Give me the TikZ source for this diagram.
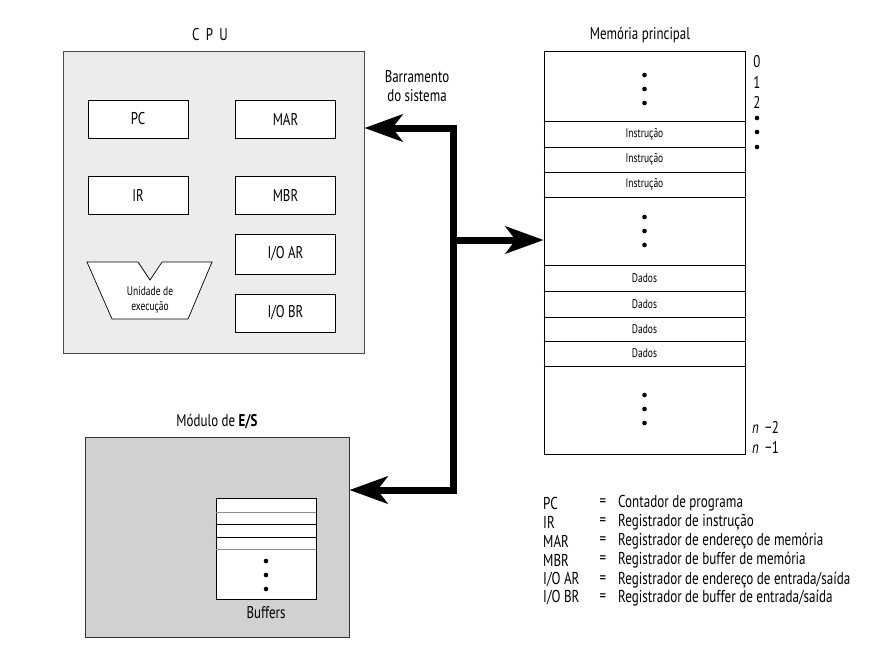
\documentclass[tikz,border=0pt]{standalone}
\usepackage{fontspec}
\setmainfont{PT Sans}[FakeStretch=0.76]
\usepackage{tikz}
\usetikzlibrary{positioning,arrows.meta}

\definecolor{cpugray}{gray}{0.925}
\definecolor{iogray}{gray}{0.82}

\begin{document}
\begin{tikzpicture}[
    x=1pt, y=-1pt,
    every node/.style={font=\fontsize{17}{19}\selectfont, align=center, inner sep=0pt},
    reg/.style={rectangle, draw=black, line width=0.7pt, fill=white, minimum width=100pt, minimum height=38pt},
    cell/.style={font=\fontsize{12.5}{14}\selectfont},
    bus/.style={-{Stealth[length=38pt, width=27pt, inset=10pt]}, line width=7pt, line join=miter},
    dot/.style={circle, fill=black, minimum size=4.6pt},
    legend/.style={anchor=west, font=\fontsize{17.2}{19}\selectfont}
]
\useasboundingbox (0,0) rectangle (883,657);

% CPU
\node[rectangle, draw=black!70, line width=0.8pt, fill=cpugray, minimum width=301pt, minimum height=302pt] (cpu) at (213.5,202) {};
\node (cputitle) at (210,35) {C\, P\, U};
\node[reg] (pc)  at (138,119)   {PC};
\node[reg] (mar) at (285.5,119) {MAR};
\node[reg] (ir)  at (138,195.5) {IR};
\node[reg] (mbr) at (285.5,195.5) {MBR};
\node[reg, minimum height=40pt] (ioar) at (285.5,254) {I/O AR};
\node[reg] (iobr) at (285.5,313) {I/O BR};
\draw[fill=white, line width=0.7pt] (87,262) -- (138,262) -- (150,280) -- (162,262) -- (212,262)
    -- (188,319) -- (112,319) -- cycle;
\node[font=\fontsize{12.5}{15}\selectfont] (exec) at (150,300) {Unidade de\\execução};

% memoria principal
\node (memtitle) at (640,35) {Memória principal};
\node[rectangle, draw=black, line width=0.7pt, fill=white, minimum width=201pt, minimum height=403pt] (mem) at (644.5,252.5) {};
\foreach \y in {121,147,172,197,265,291,317,341,366}
    \draw[line width=0.6pt] (mem.west |- 0,\y) -- (mem.east |- 0,\y);
\foreach \y/\n in {134/1,159.5/2,184.5/3}
    \node[cell] (ins\n) at (644.5,\y) {Instrução};
\foreach \y/\n in {278/1,304/2,329/3,353.5/4}
    \node[cell] (dad\n) at (644.5,\y) {Dados};
\foreach \y/\n in {75/1,89/2,103/3,217/4,231/5,245/6,395/7,409/8,423/9}
    \node[dot] (md\n) at (644.5,\y) {};

% enderecos
\node (a0) at (757,62)  {0};
\node (a1) at (757,82)  {1};
\node (a2) at (757,102) {2};
\foreach \y/\n in {118/1,132/2,147/3}
    \node[dot] (ad\n) at (757,\y) {};
\node[anchor=west] (an2) at (752,427) {\textit{n}\, −2};
\node[anchor=west] (an1) at (752,447) {\textit{n}\, −1};

% modulo de E/S
\node (iotitle) at (217,422) {Módulo de \textbf{E/S}};
\node[rectangle, draw=black!80, line width=0.8pt, fill=iogray, minimum width=264pt, minimum height=200pt] (io) at (217,537) {};
\node[rectangle, draw=black, line width=0.7pt, fill=white, minimum width=100pt, minimum height=101pt] (buf) at (266,548.5) {};
\draw[black!45, line width=0.7pt] (buf.west |- 0,512) -- (buf.east |- 0,512);
\draw[line width=0.7pt] (buf.west |- 0,524) -- (buf.east |- 0,524);
\draw[line width=0.7pt] (buf.west |- 0,537) -- (buf.east |- 0,537);
\draw[black!45, line width=0.7pt] (buf.west |- 0,549) -- (buf.east |- 0,549);
\foreach \y/\n in {561/1,575/2,589/3}
    \node[dot] (bd\n) at (266,\y) {};
\node (buflbl) at (266,613) {Buffers};

% barramento
\node (buslbl) at (417,86) {Barramento\\do sistema};
\coordinate (bmid) at (453,240);
\coordinate (btop) at (453,128);
\coordinate (bbot) at (453,490);
\draw[bus] (bmid) |- (cpu.east |- btop);
\draw[bus] (bmid) |- (io.east |- bbot);
\draw[bus] (bmid) -- (mem.west |- bmid);

% legenda
\foreach \y/\ab/\txt [count=\i] in {503/PC/Contador de programa,
        522/IR/Registrador de instrução,
        541/MAR/Registrador de endereço de memória,
        560/MBR/Registrador de buffer de memória,
        580/{I/O AR}/Registrador de endereço de entrada{/}saída,
        598/{I/O BR}/Registrador de buffer de entrada{/}saída} {
    \node[legend] (ab\i) at (543,\y) {\ab};
    \node (eq\i) at (603,\y) {=};
    \node[legend] (tx\i) at (618,\y) {\txt};
}
\end{tikzpicture}
\end{document}
